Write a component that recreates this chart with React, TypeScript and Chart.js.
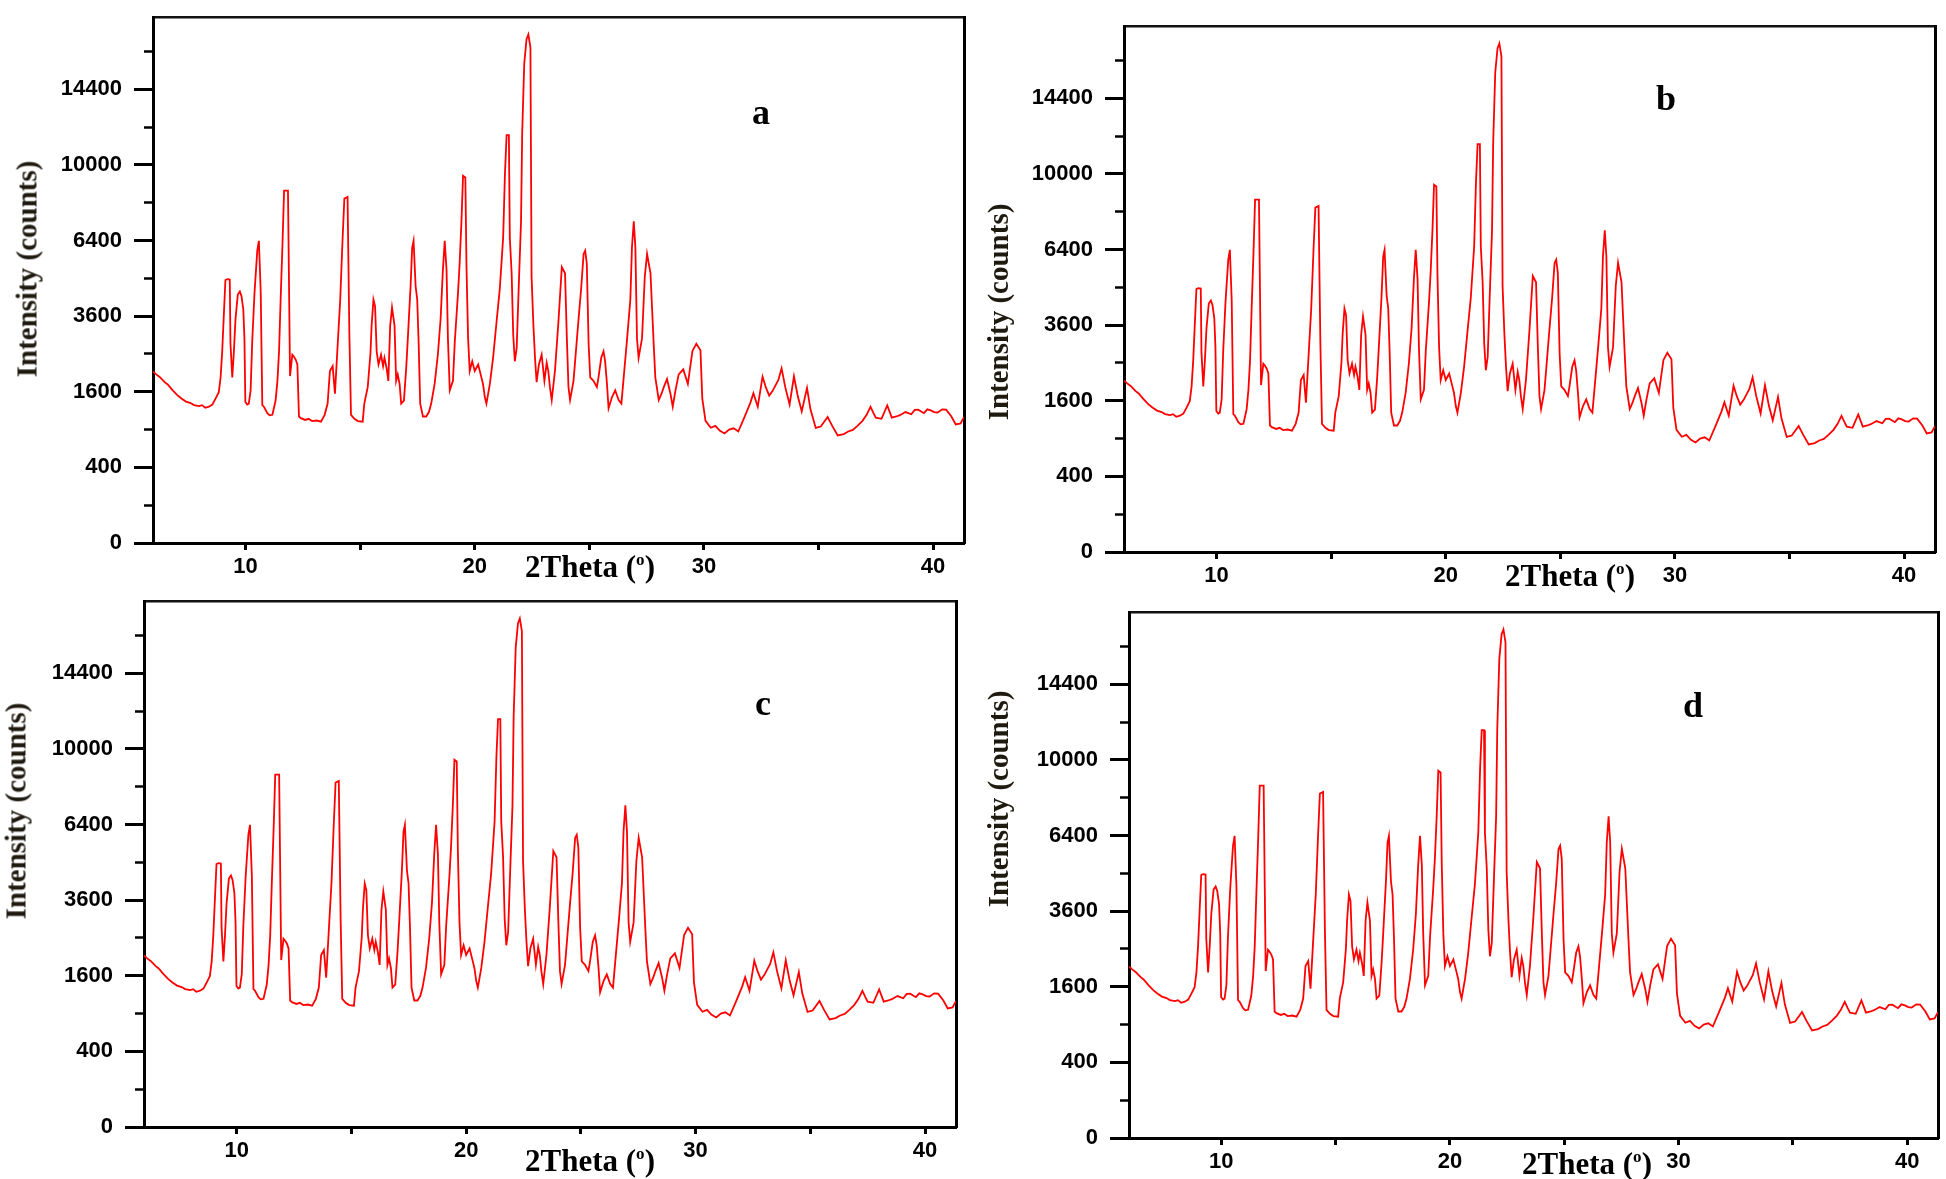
import React, { useEffect, useRef } from 'react';
import { Chart, registerables } from 'chart.js';

Chart.register(...registerables);

// ---- data (same diffractogram shown in all four panels) ----
const twoTheta: number[] = [
  5.96, 6.1, 6.25, 6.47, 6.6, 6.8, 7.02, 7.2, 7.4, 7.6, 7.75, 7.97, 8.1, 8.24, 8.4, 8.55,
  8.69, 8.83, 8.91, 8.98, 9.05, 9.12, 9.2, 9.31, 9.34, 9.42, 9.49, 9.56, 9.66, 9.75, 9.82, 9.9,
  9.95, 9.99, 10.07, 10.14, 10.22, 10.29, 10.39, 10.51, 10.58, 10.66, 10.73, 10.8, 10.95, 11.05, 11.17, 11.31,
  11.39, 11.46, 11.53, 11.61, 11.68, 11.85, 11.9, 11.94, 12.04, 12.12, 12.19, 12.26, 12.33, 12.41, 12.6, 12.75,
  12.9, 13.1, 13.29, 13.45, 13.58, 13.68, 13.8, 13.9, 14.01, 14.13, 14.23, 14.31, 14.45, 14.53, 14.6, 14.75,
  14.9, 15.11, 15.18, 15.33, 15.45, 15.5, 15.58, 15.65, 15.72, 15.8, 15.91, 16.0, 16.06, 16.15, 16.23, 16.31,
  16.39, 16.5, 16.57, 16.64, 16.72, 16.79, 16.91, 17.01, 17.08, 17.2, 17.27, 17.33, 17.42, 17.49, 17.55, 17.62,
  17.74, 17.88, 18.0, 18.1, 18.25, 18.39, 18.51, 18.61, 18.69, 18.77, 18.83, 18.91, 19.05, 19.13, 19.27, 19.34,
  19.42, 19.49, 19.59, 19.64, 19.71, 19.78, 19.89, 20.0, 20.15, 20.29, 20.36, 20.44, 20.51, 20.66, 20.8, 20.95,
  21.09, 21.24, 21.32, 21.39, 21.49, 21.53, 21.61, 21.68, 21.75, 21.83, 21.93, 22.02, 22.07, 22.16, 22.26, 22.34,
  22.43, 22.48, 22.56, 22.63, 22.7, 22.8, 22.92, 23.04, 23.14, 23.21, 23.28, 23.36, 23.5, 23.65, 23.8, 23.94,
  24.02, 24.09, 24.16, 24.31, 24.53, 24.64, 24.75, 24.82, 24.89, 24.97, 25.04, 25.18, 25.33, 25.4, 25.52, 25.62,
  25.69, 25.77, 25.84, 25.99, 26.13, 26.28, 26.4, 26.5, 26.65, 26.79, 26.86, 26.94, 27.01, 27.08, 27.15, 27.3,
  27.42, 27.52, 27.67, 27.74, 27.81, 27.88, 28.03, 28.15, 28.25, 28.39, 28.54, 28.64, 28.76, 28.9, 29.1, 29.3,
  29.5, 29.67, 29.85, 29.93, 30.07, 30.3, 30.5, 30.7, 30.9, 31.1, 31.3, 31.5, 31.77, 32.03, 32.16, 32.35,
  32.56, 32.7, 32.85, 33.0, 33.25, 33.39, 33.55, 33.74, 33.93, 34.1, 34.27, 34.5, 34.65, 34.88, 35.1, 35.4,
  35.6, 35.84, 36.1, 36.3, 36.5, 36.7, 36.92, 37.1, 37.27, 37.4, 37.5, 37.75, 38.0, 38.2, 38.4, 38.55,
  38.8, 39.05, 39.2, 39.35, 39.6, 39.75, 39.9, 40.05, 40.2, 40.4, 40.57, 40.8, 40.99, 41.2, 41.35,
];

const counts: number[] = [
  2060, 1990, 1930, 1810, 1760, 1640, 1530, 1460, 1400, 1370, 1330, 1310, 1330, 1280, 1300, 1340,
  1460, 1590, 1920, 2570, 3620, 4840, 4870, 4860, 2790, 1920, 2570, 3510, 4320, 4430, 4270, 3830,
  2930, 1390, 1340, 1360, 1630, 2840, 4380, 5980, 6390, 4430, 1330, 1300, 1180, 1140, 1150, 1420,
  1840, 2570, 4150, 6250, 8690, 8690, 4320, 1950, 2480, 2420, 2350, 2230, 1120, 1090, 1060, 1080,
  1040, 1050, 1030, 1150, 1360, 2070, 2190, 1560, 2650, 4150, 6390, 8300, 8380, 3020, 1150, 1080,
  1040, 1030, 1360, 1700, 2520, 3310, 4150, 3930, 2570, 2230, 2480, 2190, 2400, 2150, 1840, 3310,
  3880, 3310, 1840, 1990, 1770, 1360, 1420, 2150, 2930, 4610, 6110, 6390, 4610, 4150, 2840, 1360,
  1120, 1120, 1200, 1360, 1770, 2480, 3510, 5210, 6390, 5210, 2930, 1630, 1840, 2840, 4380, 5460,
  7240, 9440, 9350, 5330, 2930, 2070, 2310, 2070, 2230, 1920, 1770, 1490, 1360, 1770, 2400, 3410,
  4490, 6530, 9600, 11640, 11640, 6530, 5090, 3020, 2310, 2660, 4840, 7240, 11730, 16080, 17760, 18100,
  17190, 4960, 3310, 2400, 1810, 2230, 2480, 1840, 2270, 2070, 1700, 1430, 2070, 3410, 5330, 5090,
  2930, 1700, 1430, 1840, 3510, 4490, 5850, 5980, 5460, 2750, 1920, 1840, 1700, 1920, 2400, 2570,
  2310, 1770, 1270, 1490, 1630, 1430, 1360, 1920, 2930, 4150, 6110, 7240, 6110, 2930, 2400, 2930,
  4960, 5850, 5090, 3830, 2750, 1920, 1430, 1560, 1700, 1880, 1560, 1300, 1630, 1990, 2110, 1770,
  2580, 2780, 2600, 1460, 1045, 930, 960, 880, 840, 900, 920, 870, 1110, 1380, 1570, 1300,
  1935, 1700, 1520, 1620, 1860, 2134, 1700, 1345, 1945, 1500, 1213, 1683, 1250, 926, 950, 1110,
  960, 810, 830, 870, 895, 960, 1045, 1150, 1297, 1180, 1100, 1080, 1325, 1100, 1120, 1143,
  1200, 1160, 1240, 1243, 1180, 1250, 1230, 1200, 1190, 1250, 1243, 1120, 983, 1000, 1110,
];

const yTickCounts: number[] = [0, 400, 1600, 3600, 6400, 10000, 14400];
const yMinorCounts: number[] = [100, 900, 2500, 4900, 8100, 12100, 16900];
const xTickValues: number[] = [10, 15, 20, 25, 30, 35, 40];
const xLabelValues: number[] = [10, 20, 30, 40];
const panelLetters: string[] = ['a', 'b', 'c', 'd'];
const yTitleText = 'Intensity (counts)';
const xTitleText = '2Theta (';

const X_MIN = 5.96;
const X_MAX = 41.35;

// ---- layout (pixel positions of each panel) ----
const PX_PER_SQRT = 3.875;
const YW = 150;
const XH = 45;
const PAD_T = 12;
const PAD_R = 20;
const PAD_B = 8;

interface PanelGeo {
  l: number; r: number; b: number;
  letterX: number; letterY: number;
  yTitleX: number; yTitleY: number;
  xTitleX: number; xTitleY: number;
}

const geos: PanelGeo[] = [
  { l: 153, r: 964, b: 543, letterX: 761, letterY: 112, yTitleX: 27, yTitleY: 269, xTitleX: 590, xTitleY: 566 },
  { l: 1124, r: 1935, b: 552, letterX: 1666, letterY: 98, yTitleX: 998, yTitleY: 312, xTitleX: 1570, xTitleY: 575 },
  { l: 144, r: 956, b: 1127, letterX: 763, letterY: 703, yTitleX: 16, yTitleY: 811, xTitleX: 590, xTitleY: 1160 },
  { l: 1129, r: 1938, b: 1138, letterX: 1693, letterY: 705, yTitleX: 998, yTitleY: 799, xTitleX: 1587, xTitleY: 1163 },
];

const tickFont = { family: "'Liberation Sans', Arial, sans-serif", size: 22, weight: 'bold' as const };

function Panel({ geo }: { geo: PanelGeo }) {
  const ref = useRef<HTMLCanvasElement>(null);
  const top = Math.round(geo.b - 139 * PX_PER_SQRT);
  const plotH = geo.b - top;
  const yMax = plotH / PX_PER_SQRT;
  const cw = YW + (geo.r - geo.l) + PAD_R;
  const ch = PAD_T + plotH + XH + PAD_B;
  const left = geo.l - YW;
  const ctop = top - PAD_T;

  useEffect(() => {
    if (!ref.current) return;
    const points = twoTheta.map((x, i) => ({ x, y: Math.sqrt(counts[i]) }));
    const chart = new Chart(ref.current, {
      type: 'line',
      data: {
        datasets: [
          {
            data: points,
            xAxisID: 'x',
            yAxisID: 'y',
            borderColor: '#ff0000',
            borderWidth: 1.8,
            pointRadius: 0,
            tension: 0,
            fill: false,
          },
        ],
      },
      options: {
        animation: false,
        responsive: false,
        maintainAspectRatio: false,
        events: [],
        layout: { autoPadding: false, padding: { left: 0, top: PAD_T, right: PAD_R, bottom: PAD_B } },
        plugins: { legend: { display: false }, tooltip: { enabled: false }, title: { display: false } },
        scales: {
          x: {
            type: 'linear',
            position: 'bottom',
            min: X_MIN,
            max: X_MAX,
            afterBuildTicks: (s: any) => { s.ticks = xTickValues.map((v) => ({ value: v })); },
            afterFit: (s: any) => { s.height = XH; },
            ticks: {
              callback: (v: any) => (xLabelValues.includes(Number(v)) ? String(v) : ''),
              font: tickFont,
              color: '#000',
              padding: 4,
              maxRotation: 0,
              autoSkip: false,
            },
            grid: { drawOnChartArea: false, drawTicks: true, tickLength: 7, tickWidth: 3, tickColor: '#000' },
            border: { display: true, color: '#000', width: 3 },
          },
          xTop: {
            type: 'linear',
            position: 'top',
            min: X_MIN,
            max: X_MAX,
            afterFit: (s: any) => { s.height = 0; },
            ticks: { display: false },
            grid: { drawOnChartArea: false, drawTicks: false },
            border: { display: true, color: '#111', width: 2.5 },
          },
          y: {
            type: 'linear',
            position: 'left',
            weight: 1,
            min: 0,
            max: yMax,
            afterBuildTicks: (s: any) => { s.ticks = yTickCounts.map((v) => ({ value: Math.sqrt(v) })); },
            afterFit: (s: any) => { s.width = YW; },
            ticks: {
              callback: (v: any) => String(Math.round(Number(v) * Number(v))),
              font: tickFont,
              color: '#000',
              padding: 12,
              autoSkip: false,
            },
            grid: { drawOnChartArea: false, drawTicks: true, tickLength: 19, tickWidth: 3, tickColor: '#000' },
            border: { display: true, color: '#000', width: 3 },
          },
          yMinor: {
            type: 'linear',
            position: 'left',
            weight: 0,
            min: 0,
            max: yMax,
            afterBuildTicks: (s: any) => { s.ticks = yMinorCounts.map((v) => ({ value: Math.sqrt(v) })); },
            afterFit: (s: any) => { s.width = 0; },
            ticks: { display: false },
            grid: { drawOnChartArea: false, drawTicks: true, tickLength: 9, tickWidth: 2.5, tickColor: '#000' },
            border: { display: false },
          },
          yRight: {
            type: 'linear',
            position: 'right',
            min: 0,
            max: yMax,
            afterFit: (s: any) => { s.width = 0; },
            ticks: { display: false },
            grid: { drawOnChartArea: false, drawTicks: false },
            border: { display: true, color: '#000', width: 3 },
          },
        },
      } as any,
    });
    return () => chart.destroy();
  }, []);

  return (
    <canvas
      ref={ref}
      width={cw}
      height={ch}
      style={{ position: 'absolute', left, top: ctop, width: cw, height: ch }}
    />
  );
}

const serif = "'Liberation Serif', 'Times New Roman', serif";

export default function App() {
  return (
    <div
      style={{
        position: 'fixed',
        left: 0,
        top: 0,
        width: 1946,
        height: 1179,
        overflow: 'hidden',
        background: '#ffffff',
      }}
    >
      {geos.map((g, i) => (
        <Panel key={'p' + i} geo={g} />
      ))}
      {geos.map((g, i) => (
        <React.Fragment key={'t' + i}>
          <div
            style={{
              position: 'absolute',
              left: g.yTitleX,
              top: g.yTitleY,
              transform: 'translate(-50%, -50%) rotate(-90deg)',
              whiteSpace: 'nowrap',
              font: `bold 29px ${serif}`,
              color: '#1f1a10',
              lineHeight: 1,
            }}
          >
            {yTitleText}
          </div>
          <div
            style={{
              position: 'absolute',
              left: g.xTitleX,
              top: g.xTitleY,
              transform: 'translate(-50%, -50%)',
              whiteSpace: 'nowrap',
              font: `bold 31px ${serif}`,
              color: '#000',
              background: '#fff',
              lineHeight: 1,
            }}
          >
            {xTitleText}
            <sup style={{ fontSize: '0.55em' }}>o</sup>)
          </div>
          <div
            style={{
              position: 'absolute',
              left: g.letterX,
              top: g.letterY,
              transform: 'translate(-50%, -50%)',
              font: `bold 36px ${serif}`,
              color: '#000',
              lineHeight: 1,
            }}
          >
            {panelLetters[i]}
          </div>
        </React.Fragment>
      ))}
    </div>
  );
}
